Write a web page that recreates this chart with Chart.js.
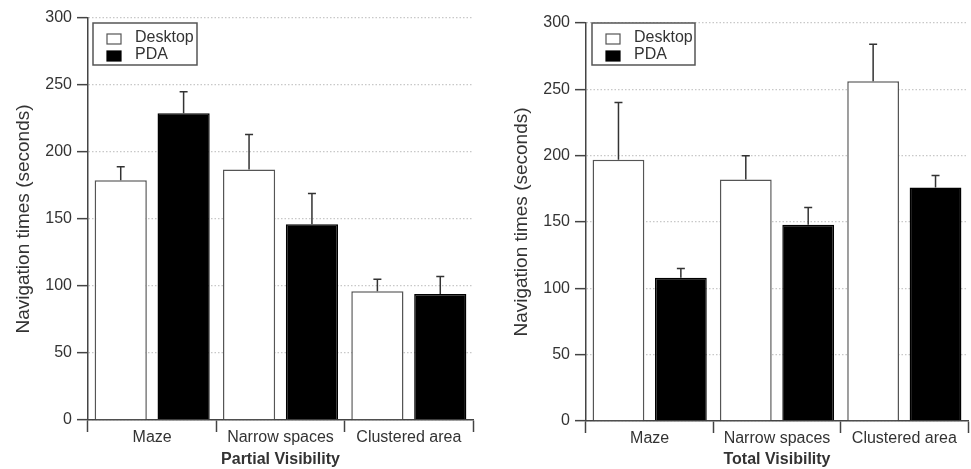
<!DOCTYPE html>
<html>
<head>
<meta charset="utf-8">
<script src="https://cdn.jsdelivr.net/npm/chart.js@4.4.0/dist/chart.umd.min.js"></script>
<style>
  html, body { margin: 0; padding: 0; background: #fff; }
  #wrap { position: relative; width: 971px; height: 469px; overflow: hidden; }
  canvas { position: absolute; top: 0; }
  #partial { left: 0; }
  #total { left: 485px; }
</style>
</head>
<body>
<div id="wrap">
  <canvas id="partial" width="485" height="469"></canvas>
  <canvas id="total" width="486" height="469"></canvas>
</div>
<script>
// Data
const categories = ['Maze', 'Narrow spaces', 'Clustered area'];
const seriesNames = ['Desktop', 'PDA'];
const yTicks = [0, 50, 100, 150, 200, 250, 300];

// Partial visibility
const partialDesktop = [179, 187, 96];
const partialDesktopErr = [10, 26, 9];
const partialPDA = [229, 146, 94];
const partialPDAErr = [16, 23, 13];

// Total visibility
const totalDesktop = [197, 182, 256];
const totalDesktopErr = [43, 18, 28];
const totalPDA = [108, 148, 176];
const totalPDAErr = [7, 13, 9];

const FONT = '"Liberation Sans", Arial, sans-serif';
const TEXT = '#333';
const AXIS = '#444';

// error bars (upper only) drawn from the bar tops
const errorBarPlugin = {
    id: 'errorBars',
    afterDatasetsDraw(chart) {
        const ctx = chart.ctx;
        const yScale = chart.scales.y;
        chart.data.datasets.forEach((ds, i) => {
            const meta = chart.getDatasetMeta(i);
            meta.data.forEach((bar, j) => {
                const top = yScale.getPixelForValue(ds.data[j] + ds.errors[j]);
                ctx.save();
                ctx.strokeStyle = '#333';
                ctx.lineWidth = 1.5;
                ctx.beginPath();
                ctx.moveTo(bar.x, bar.y);
                ctx.lineTo(bar.x, top);
                ctx.moveTo(bar.x - 4, top);
                ctx.lineTo(bar.x + 4, top);
                ctx.stroke();
                ctx.restore();
            });
        });
    }
};

// boxed legend inside the plot
const boxLegendPlugin = {
    id: 'boxLegend',
    afterDraw(chart, args, opts) {
        const ctx = chart.ctx;
        ctx.save();
        ctx.fillStyle = '#fff';
        ctx.fillRect(opts.x, opts.y, opts.w, opts.h);
        ctx.strokeStyle = '#555';
        ctx.lineWidth = 1.5;
        ctx.strokeRect(opts.x, opts.y, opts.w, opts.h);
        ctx.font = '16px ' + FONT;
        ctx.textBaseline = 'middle';
        chart.data.datasets.forEach((ds, i) => {
            const cy = opts.y + 15 + i * 17;
            ctx.fillStyle = ds.backgroundColor;
            ctx.fillRect(opts.x + 14, cy - 4, 14, 10);
            ctx.strokeStyle = ds.borderColor;
            ctx.lineWidth = 1.2;
            ctx.strokeRect(opts.x + 14, cy - 4, 14, 10);
            ctx.fillStyle = TEXT;
            ctx.fillText(ds.label, opts.x + 42, cy);
        });
        ctx.restore();
    }
};

function makeChart(id, xTitle, desktop, desktopErr, pda, pdaErr, lay) {
    return new Chart(document.getElementById(id), {
        type: 'bar',
        data: {
            labels: categories,
            datasets: [
                {
                    label: seriesNames[0],
                    data: desktop,
                    errors: desktopErr,
                    backgroundColor: '#fff',
                    borderColor: '#555',
                    borderWidth: 1.5
                },
                {
                    label: seriesNames[1],
                    data: pda,
                    errors: pdaErr,
                    backgroundColor: '#000',
                    borderColor: '#000',
                    borderWidth: 1.5
                }
            ]
        },
        options: {
            responsive: false,
            animation: false,
            categoryPercentage: 0.98,
            barPercentage: 0.83,
            layout: { padding: { left: 0, top: lay.top, right: lay.right, bottom: 0 } },
            scales: {
                x: {
                    grid: {
                        offset: true,
                        drawOnChartArea: false,
                        tickLength: 12,
                        tickColor: AXIS,
                        tickWidth: 1.5
                    },
                    border: { color: AXIS, width: 1.5 },
                    ticks: { color: TEXT, font: { family: FONT, size: 16 }, padding: -4, maxRotation: 0 },
                    title: {
                        display: true,
                        text: xTitle,
                        color: TEXT,
                        font: { family: FONT, size: 16, weight: 'bold' },
                        padding: { top: 0, bottom: 0 }
                    },
                    afterFit(scale) { scale.height = lay.xHeight; }
                },
                y: {
                    min: 0,
                    max: 300,
                    afterBuildTicks(scale) { scale.ticks = yTicks.map(v => ({ value: v })); },
                    grid: {
                        color: '#c8c8c8',
                        lineWidth: 1.3,
                        tickLength: 11,
                        tickColor: AXIS,
                        tickWidth: 1.5
                    },
                    border: { color: AXIS, width: 1.5, dash: [1.5, 2] },
                    ticks: { color: TEXT, font: { family: FONT, size: 16 }, padding: 5 },
                    title: {
                        display: true,
                        text: 'Navigation times (seconds)',
                        color: TEXT,
                        font: { family: FONT, size: 19 },
                        padding: { top: lay.yTitlePad, bottom: 0 }
                    },
                    afterFit(scale) { scale.width = lay.yWidth; }
                }
            },
            plugins: {
                legend: { display: false },
                tooltip: { enabled: false },
                boxLegend: lay.legend
            }
        },
        plugins: [errorBarPlugin, boxLegendPlugin]
    });
}

makeChart('partial', 'Partial Visibility', partialDesktop, partialDesktopErr, partialPDA, partialPDAErr, {
    top: 18, right: 12, xHeight: 49, yWidth: 88, yTitlePad: 12.5,
    legend: { x: 93, y: 23, w: 104, h: 42 }
});

makeChart('total', 'Total Visibility', totalDesktop, totalDesktopErr, totalPDA, totalPDAErr, {
    top: 23, right: 3, xHeight: 48, yWidth: 101, yTitlePad: 25,
    legend: { x: 107, y: 23, w: 103, h: 42 }
});
</script>
</body>
</html>
